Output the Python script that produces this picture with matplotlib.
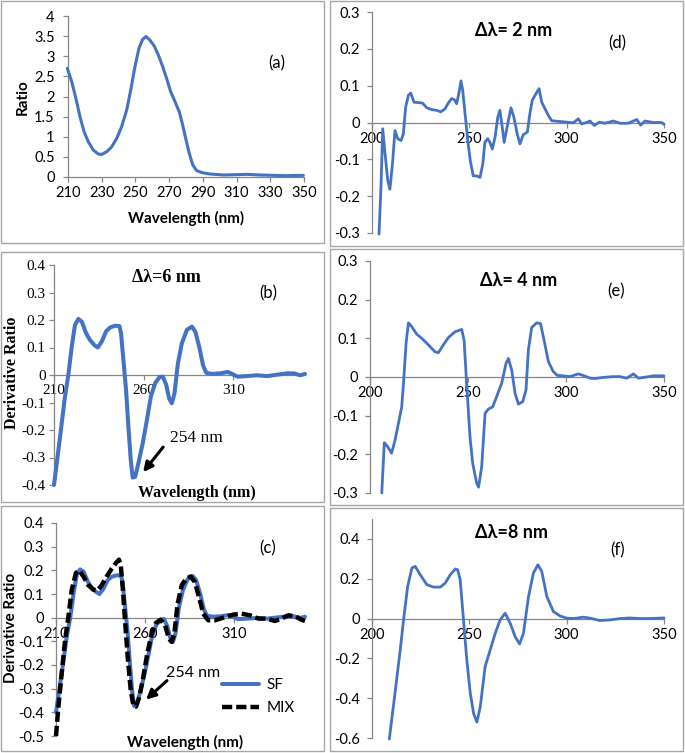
import matplotlib
matplotlib.use("Agg")
import matplotlib.pyplot as plt
from matplotlib.patches import Rectangle

plt.rcParams['font.family'] = ['Lato', 'DejaVu Sans']
plt.rcParams['axes.unicode_minus'] = False

# ---------------- data ----------------
# (a) ratio spectrum
a_wl = [209.6, 212.2, 214.7, 217.1, 219.5, 222, 225, 228, 230, 233, 235.9, 238.9, 241.8, 244.8,
        247.4, 249.7, 252.1, 254.3, 256.3, 258.6, 261.2, 263.6, 266.2, 268.5, 270.9, 273.5, 276,
        277.8, 279.8, 281.9, 284, 286.3, 289.3, 294.2, 302.1, 310, 316, 323.9, 331.8, 339.7, 349.6]
a_ratio = [2.70, 2.37, 1.95, 1.50, 1.13, 0.88, 0.67, 0.57, 0.56, 0.63, 0.75, 0.96, 1.25, 1.66,
           2.20, 2.74, 3.20, 3.42, 3.49, 3.40, 3.25, 3.03, 2.74, 2.45, 2.12, 1.87, 1.62,
           1.33, 0.96, 0.59, 0.30, 0.16, 0.11, 0.075, 0.05, 0.058, 0.066, 0.05, 0.041, 0.033, 0.041]

# (b)/(c) SF first derivative ratio, delta-lambda = 6 nm
sf_wl = [210, 213.4, 216.1, 218, 219.9, 221.7, 223.6, 225.5, 227.9, 230.1, 232.5, 234.4, 236.6,
         239, 241.3, 244, 246.5, 247.4, 248.7, 250.2, 251.5, 252.8, 253.9, 255.3, 257.1, 259.5,
         261.8, 264, 266.4, 268.8, 270.7, 272.6, 274.2, 275.7, 277.2, 279.1, 281.3, 284.1, 286.9,
         288.8, 291, 293.1, 294.9, 298.1, 302.7, 307, 310.2, 312.4, 317.6, 323.2, 328.8, 334.4,
         340, 343.7, 347.4, 350]
sf_dr = [-0.40, -0.224, -0.079, 0.0, 0.103, 0.182, 0.204, 0.194, 0.152, 0.127, 0.109, 0.100, 0.121,
         0.158, 0.173, 0.179, 0.178, 0.152, 0.055, -0.055, -0.188, -0.309, -0.373, -0.370, -0.320, -0.248,
         -0.164, -0.079, -0.030, -0.008, -0.006, -0.036, -0.085, -0.103, -0.067, 0.042, 0.115, 0.164, 0.176,
         0.158, 0.103, 0.036, 0.008, 0.004, 0.006, 0.011, 0.001, -0.006, -0.004, -0.001, -0.004, 0.001,
         0.006, 0.006, -0.001, 0.004]

# (c) MIX
mix_wl = [210, 211.3, 213.2, 215.1, 216.9, 218.8, 221.2, 223.1, 225.4, 228.2, 231, 233.4, 235.7,
          238.5, 241.3, 243.7, 245.4, 246.4, 247.5, 248.8, 250.3, 252, 253.5, 255, 256.9, 259.1,
          261.3, 263.8, 266.2, 268.8, 271.3, 273.5, 275, 276.5, 278.4, 280.7, 283.1, 285.7, 288.1,
          290.4, 292.8, 295.6, 299.4, 304.1, 309.7, 314.4, 319.1, 323.8, 328.4, 333.1, 336.9, 340.6,
          344.4, 348.1, 350]
mix_dr = [-0.50, -0.38, -0.236, -0.095, 0.0, 0.115, 0.189, 0.200, 0.174, 0.137, 0.118, 0.115, 0.137,
          0.174, 0.207, 0.231, 0.245, 0.221, 0.129, -0.011, -0.165, -0.306, -0.370, -0.376, -0.334, -0.250,
          -0.152, -0.068, -0.022, -0.009, -0.032, -0.089, -0.102, -0.068, 0.059, 0.137, 0.164, 0.174, 0.150,
          0.087, 0.017, -0.011, -0.011, 0.0, 0.013, 0.017, 0.010, -0.004, -0.004, -0.014, -0.004, 0.010,
          0.006, -0.009, -0.014]

# (d) delta-lambda = 2 nm
d_wl = [203.6, 204.6, 205.5, 206.7, 208.1, 209.2, 210.5, 211.8, 213.2, 214.9, 216.1, 217.3, 218.7,
        219.9, 221.6, 223.8, 225.9, 228.1, 230.7, 233.2, 235.4, 237.5, 239.2, 240.9, 242.3, 243.5,
        244.9, 245.7, 246.6, 247.8, 249.2, 250.5, 252, 253.8, 255.5, 256.9, 258, 259.4, 260.6,
        261.8, 263.2, 264.6, 265.7, 266.9, 267.9, 269.7, 271.4, 272.9, 274.6, 276, 277.7, 279.8,
        281.1, 282.3, 284.2, 285.8, 287.2, 288.9, 290.6, 292.3, 295.7, 300, 303.4, 306, 307.7,
        310.6, 312, 314.2, 316.8, 319.7, 324, 327.4, 331.6, 336, 338, 340.2, 344.5, 348.8, 350]
d_dr = [-0.303, -0.176, -0.017, -0.085, -0.158, -0.181, -0.113, -0.022, -0.044, -0.049, -0.031, 0.042, 0.074,
        0.080, 0.055, 0.054, 0.053, 0.040, 0.035, 0.033, 0.029, 0.037, 0.053, 0.065, 0.062, 0.051,
        0.087, 0.113, 0.087, 0.024, -0.049, -0.104, -0.145, -0.145, -0.149, -0.113, -0.054, -0.044, -0.054,
        -0.072, -0.040, 0.014, 0.033, -0.013, -0.054, -0.004, 0.040, 0.014, -0.031, -0.058, -0.033, -0.026,
        0.024, 0.060, 0.078, 0.092, 0.055, 0.037, 0.019, 0.005, 0.003, 0.001, -0.001, 0.010, -0.004,
        0.001, 0.004, -0.008, 0.001, -0.002, 0.004, -0.002, -0.002, 0.008, -0.007, 0.004, 0.0, 0.0, -0.005]

# (e) delta-lambda = 4 nm
e_wl = [206, 207.3, 209, 211, 212.8, 214.5, 216.2, 217.3, 218.4, 219.6, 221.3, 223.8, 226.4, 229.8,
        233.2, 234.9, 237.4, 240, 243.4, 246.8, 248, 249.3, 251, 252.4, 254.4, 255.4, 257, 258.7,
        260.4, 262.6, 264.6, 267.2, 269.4, 270.6, 272.3, 274, 275.7, 277.9, 279.6, 280.8, 282.5,
        285, 287, 288.8, 291, 293.5, 295.6, 298.6, 302, 306.3, 308.8, 312.2, 314.8, 319, 324,
        327.6, 331, 334.4, 337, 341, 344.6, 350]
e_dr = [-0.30, -0.17, -0.18, -0.197, -0.163, -0.12, -0.077, 0.0, 0.087, 0.140, 0.130, 0.111, 0.100, 0.083,
        0.065, 0.063, 0.083, 0.102, 0.117, 0.123, 0.095, -0.016, -0.154, -0.223, -0.274, -0.285, -0.231, -0.094,
        -0.083, -0.077, -0.051, -0.016, 0.035, 0.048, 0.018, -0.042, -0.070, -0.064, -0.034, 0.070, 0.128,
        0.140, 0.138, 0.095, 0.040, 0.014, 0.004, 0.003, 0.001, 0.008, 0.004, -0.003, -0.004, -0.001, 0.001,
        0.001, -0.003, 0.008, -0.003, 0.0, 0.003, 0.003]

# (f) delta-lambda = 8 nm
f_wl = [208.9, 212, 214.5, 216.2, 218.3, 220.5, 222.2, 224.8, 228.2, 231.6, 235.1, 237.6, 240.2,
        242.8, 244, 245.3, 247, 248.7, 250.5, 252.2, 253.9, 255.6, 258.1, 260.7, 263.3, 265.8,
        268.4, 271, 273.5, 275.8, 277.8, 280.4, 282.9, 285.2, 287.2, 289.8, 293.2, 296.6, 300,
        303.5, 308.6, 312, 317, 322.3, 327.4, 332.5, 337.7, 342.8, 350]
f_dr = [-0.605, -0.36, -0.158, -0.007, 0.16, 0.254, 0.262, 0.22, 0.17, 0.158, 0.158, 0.178, 0.22,
        0.249, 0.245, 0.195, -0.007, -0.208, -0.376, -0.477, -0.52, -0.444, -0.242, -0.158, -0.074, -0.007,
        0.027, -0.024, -0.09, -0.128, -0.074, 0.11, 0.228, 0.27, 0.237, 0.111, 0.035, 0.013, 0.002,
        0.0, 0.007, 0.002, -0.01, -0.007, 0.0, 0.003, 0.0, 0.0, 0.003]

a_xticks = [210, 230, 250, 270, 290, 310, 330, 350]
a_yticks = [0, 0.5, 1, 1.5, 2, 2.5, 3, 3.5, 4]
bc_xticks = [210, 260, 310]
b_yticks = [-0.4, -0.3, -0.2, -0.1, 0, 0.1, 0.2, 0.3, 0.4]
c_yticks = [-0.5, -0.4, -0.3, -0.2, -0.1, 0, 0.1, 0.2, 0.3, 0.4]
def_xticks = [200, 250, 300, 350]
de_yticks = [-0.3, -0.2, -0.1, 0, 0.1, 0.2, 0.3]
f_yticks = [-0.6, -0.4, -0.2, 0, 0.2, 0.4]
series_labels = ['SF', 'MIX']

# ---------------- layout helpers ----------------
W, H = 685, 753
fig = plt.figure(figsize=(W / 100, H / 100), dpi=100)
BLUE = '#4472C4'
GRAY = '#868686'
SERIF = ['Liberation Serif', 'DejaVu Serif']
SANS = ['Lato', 'DejaVu Sans']
TICK = 10.5


def fx(x):
    return x / W


def fy(y):
    return 1 - y / H


def box(x0, y0, x1, y1):
    fig.add_artist(Rectangle((fx(x0), fy(y1)), fx(x1 - x0), (y1 - y0) / H,
                             transform=fig.transFigure, fill=False,
                             edgecolor='#A6A6A6', linewidth=1.0))


def make_ax(l, t, r, b, xlim, ylim, xticks, yticks, serif=False, tsize=TICK, ypad=5):
    ax = fig.add_axes([fx(l), fy(b), fx(r - l), (b - t) / H])
    ax.set_xlim(*xlim)
    ax.set_ylim(*ylim)
    ax.patch.set_alpha(0)
    for s in ['top', 'right']:
        ax.spines[s].set_visible(False)
    ax.spines['left'].set_color(GRAY)
    ax.spines['bottom'].set_color(GRAY)
    ax.spines['left'].set_linewidth(0.9)
    ax.spines['bottom'].set_linewidth(0.9)
    ax.spines['bottom'].set_position(('data', 0))
    ax.set_xticks(xticks, ['%g' % v for v in xticks])
    ax.set_yticks(yticks, ['%g' % v for v in yticks])
    ax.tick_params(axis='both', direction='out', length=3.6, width=0.9, color=GRAY,
                   labelsize=tsize, labelcolor='black')
    ax.tick_params(axis='x', pad=3)
    ax.tick_params(axis='y', pad=ypad)
    fam = SERIF if serif else SANS
    for lab in ax.get_xticklabels() + ax.get_yticklabels():
        lab.set_fontfamily(fam)
    return ax


def ftext(x, y, s, size, weight='normal', rot=0, family=SANS, ha='center'):
    fig.text(fx(x), fy(y), s, fontsize=size, fontweight=weight, rotation=rot,
             family=family, ha=ha, va='center')


# boxes
box(1, 1, 324, 243)
box(1, 252, 324, 502)
box(1, 506, 324, 751)
box(330, 1, 683, 246)
box(330, 249, 683, 505)
box(330, 508, 683, 751)

# (a)
ax = make_ax(68, 16, 304, 177, (210, 350), (0, 4), a_xticks, a_yticks, ypad=6)
ax.plot(a_wl, a_ratio, color=BLUE, lw=2.2, solid_capstyle='round', clip_on=False, zorder=3)
ftext(23, 97, 'Ratio', 11, 'bold', rot=90)
ftext(186, 218, 'Wavelength (nm)', 11, 'bold')
ftext(277, 63, '(a)', 12)

# (b)
ax = make_ax(54, 265, 305, 485, (210, 350), (-0.4, 0.4), bc_xticks, b_yticks, serif=True,
             tsize=11, ypad=2.5)
ax.plot(sf_wl, sf_dr, color=BLUE, lw=2.9, solid_capstyle='round', clip_on=False, zorder=3)
ax.annotate('', xy=(259.7, -0.353), xytext=(270.9, -0.262),
            arrowprops=dict(arrowstyle='-|>', lw=2.2, color='black', mutation_scale=14,
                            shrinkA=0, shrinkB=0))
ftext(12, 373, 'Derivative Ratio', 11.5, 'bold', rot=90, family=SERIF)
ftext(197, 493, 'Wavelength (nm)', 11.5, 'bold', family=SERIF)
ftext(166, 278, 'Δλ=6 nm', 13, 'bold', family=SERIF)
ftext(268, 293, '(b)', 12)
ftext(196, 438, '254 nm', 12.5, family=SERIF)

# (c)
ax = make_ax(56, 523, 305, 736, (210, 350), (-0.5, 0.4), bc_xticks, c_yticks)
ax.plot(sf_wl, sf_dr, color=BLUE, lw=2.9, solid_capstyle='round', clip_on=False, zorder=3,
        label=series_labels[0])
ax.plot(mix_wl, mix_dr, color='black', lw=3.2, linestyle=(0, (2.3, 0.9)), clip_on=False, zorder=4,
        label=series_labels[1])
ax.annotate('', xy=(260.6, -0.346), xytext=(272.4, -0.266),
            arrowprops=dict(arrowstyle='-|>', lw=2.2, color='black', mutation_scale=14,
                            shrinkA=0, shrinkB=0))
ax.legend(loc='upper left', bbox_to_anchor=(fx(222), fy(678)), bbox_transform=fig.transFigure,
          frameon=False, fontsize=11, handlelength=2.4, handletextpad=0.5, labelspacing=0.6,
          borderpad=0, borderaxespad=0)
ftext(11, 628, 'Derivative Ratio', 11, 'bold', rot=90)
ftext(185, 742, 'Wavelength (nm)', 11, 'bold')
ftext(268, 548, '(c)', 12)
ftext(193, 673, '254 nm', 11.5)

# (d)
ax = make_ax(372, 12, 664, 233, (200, 350), (-0.3, 0.3), def_xticks, de_yticks)
ax.plot(d_wl, d_dr, color=BLUE, lw=2.0, solid_capstyle='round', clip_on=False, zorder=3)
ftext(514, 31, 'Δλ= 2 nm', 13, 'bold')
ftext(617, 43, '(d)', 12)

# (e)
ax = make_ax(370, 261, 664, 493, (200, 350), (-0.3, 0.3), def_xticks, de_yticks)
ax.plot(e_wl, e_dr, color=BLUE, lw=2.0, solid_capstyle='round', clip_on=False, zorder=3)
ftext(519, 280, 'Δλ= 4 nm', 13, 'bold')
ftext(616, 291, '(e)', 12)

# (f)
ax = make_ax(372, 519, 664, 738, (200, 350), (-0.6, 0.5), def_xticks, f_yticks)
ax.plot(f_wl, f_dr, color=BLUE, lw=2.0, solid_capstyle='round', clip_on=False, zorder=3)
ftext(512, 533, 'Δλ=8 nm', 13, 'bold')
ftext(618, 550, '(f)', 12)

fig.savefig('out.png', dpi=100)
